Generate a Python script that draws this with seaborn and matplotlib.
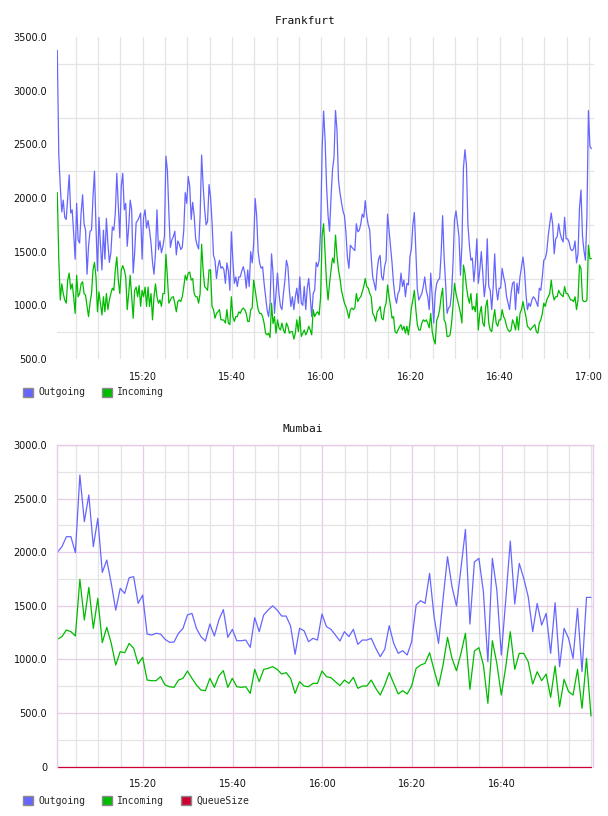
import numpy as np
import pandas as pd
import matplotlib
matplotlib.use("Agg")
import matplotlib.pyplot as plt
import matplotlib.dates as mdates
from matplotlib.patches import Patch
from matplotlib.ticker import FixedLocator, FuncFormatter
import seaborn as sns

# ---------------- data ----------------
series_names = ["Outgoing", "Incoming", "QueueSize"]
series_colors = ["#6666FF", "#00BB00", "#CC0033"]

day = "2024-01-01 "
fra_start = day + "15:00:52"
fra_step = "20s"
fra_out = [
    3375, 2400, 2110, 1870, 1980, 1820, 1800, 2010, 2215, 1860,
    1890, 1670, 1430, 1950, 1610, 1580, 1860, 2030, 1760, 1700,
    1290, 1550, 1690, 1700, 2010, 2250, 1730, 1320, 1820, 1580,
    1330, 1700, 1430, 1810, 1580, 1400, 1490, 1730, 1700, 1860,
    2230, 1920, 1630, 2110, 2230, 1890, 1950, 1550, 1730, 1980,
    1890, 1300, 1490, 1770, 1790, 1820, 1860, 1430, 1820, 1890,
    1720, 1790, 1700, 1580, 1400, 1290, 1490, 1890, 1520, 1600,
    1490, 1550, 1640, 2390, 2260, 1860, 1540, 1610, 1640, 1690,
    1470, 1600, 1570, 1520, 1540, 1700, 2050, 1950, 2200, 2110,
    1800, 1960, 1835, 1620, 1560, 1525, 1835, 2400, 2125, 1900,
    1750, 1780, 2125, 2010, 1780, 1465, 1420, 1250, 1360, 1420,
    1345, 1360, 1330, 1205, 1395, 1320, 1140, 1685, 1420, 1205,
    1265, 1175, 1265, 1265, 1320, 1360, 1300, 1160, 1330, 1175,
    1500, 1395, 1575, 1995, 1835, 1500, 1395, 1345, 1360, 1205,
    1080, 960, 895, 1020, 1480, 1300, 925, 1110, 1300, 1110,
    990, 960, 1110, 1235, 1420, 1360, 1140, 990, 1080, 960,
    1080, 1160, 1020, 1265, 1020, 1000, 1175, 960, 1160, 1250,
    1080, 895, 1110, 1140, 1400, 1360, 1420, 1700,
    2450, 2810, 2540, 2110, 1835, 1690, 2010, 2265, 2380, 2815,
    2630, 2170, 2050, 1960, 1880, 1835, 1680, 1450, 1345, 1560,
    1540, 1525, 1510, 1760, 1685, 1700, 1760, 1850, 1820, 1975,
    1835, 1750, 1700, 1450, 1265, 1205, 1140, 1330, 1435, 1465,
    1265, 1235, 1360, 1420, 1850, 1700, 1560, 1395, 1205, 1080,
    1020, 1110, 1140, 1300, 1175, 1235, 1080, 1205, 1190, 1450,
    1525, 1750, 1865, 1500, 1150, 1050, 1080, 1110, 1175, 1265,
    1140, 1080, 960, 1300, 1080, 835, 1110, 1205, 1235, 1250,
    1480, 1835, 1450, 1205, 925, 975, 990, 1110, 1395, 1800,
    1880, 1760, 1640, 1280, 1575, 2280, 2450, 2310, 1750, 1560,
    1420, 1440, 1220, 1380, 1620, 1205, 1330, 1500, 1300, 1080,
    1205, 1620, 1175, 1140, 960, 1175, 1480, 1160, 1050, 1160,
    1160, 1345, 1265, 1205, 1080, 1020, 960, 1110, 1205, 1220,
    960, 1205, 1110, 1265, 1360, 1450, 1330, 1110, 960, 1020,
    990, 1050, 1080, 1065, 1030, 990, 1160, 1140, 1265, 1420,
    1435, 1500, 1650, 1760, 1860, 1750, 1480, 1620, 1640, 1760,
    1670, 1620, 1590, 1820, 1620, 1620, 1590, 1525, 1510, 1525,
    1600, 1395, 1480, 1910, 2075, 1650, 1510, 1420, 1835, 2815,
    2480, 2460,
]
fra_in = [
    2050, 1430, 1050, 1200, 1110, 1050, 1020, 1235, 1300, 1150,
    1200, 1080, 925, 1280, 1080, 1110, 1200, 1220, 1110, 1095,
    990, 895, 1020, 1110, 1330, 1400, 1265, 940, 1125, 1020,
    910, 1080, 940, 1110, 960, 1050, 1110, 1160, 1140, 1330,
    1450, 1235, 1110, 1330, 1370, 1330, 1265, 960, 1110, 1280,
    1080, 880, 1140, 1170, 1080, 1185, 990, 1140, 1080, 1170,
    990, 1170, 990, 1110, 865, 1080, 1200, 1080, 1020, 1050,
    990, 1110, 1110, 1475, 1265, 1020, 1050, 1075, 1080, 1020,
    940, 1035, 1050, 1035, 1080, 1170, 1280, 1235, 1300, 1310,
    1235, 1250, 1110, 1080, 1080, 1020, 1110, 1570, 1330, 1175,
    1160, 1140, 1330, 1330, 990, 960, 880, 925, 940, 960,
    865, 865, 860, 835, 960, 835, 820, 1080, 895, 850,
    895, 895, 940, 925, 960, 975, 960, 925, 850, 850,
    960, 975, 1235, 1140, 1050, 960, 925, 925, 895, 835,
    740, 725, 740, 700, 1020, 830, 895, 740, 865, 790,
    770, 835, 770, 740, 835, 805, 740, 755, 755, 685,
    740, 865, 755, 895, 710, 740, 770, 725, 755, 805,
    770, 725, 960, 895, 925, 940, 910, 1080,
    1650, 1760, 1480, 1205, 1050, 1205, 1330, 1440, 1395, 1655,
    1465, 1330, 1250, 1140, 1080, 1020, 990, 940, 880, 960,
    975, 960, 975, 1110, 1035, 1065, 1080, 1125, 1175, 1250,
    1175, 1160, 1110, 1080, 925, 900, 850, 940, 960, 990,
    880, 865, 975, 1020, 1190, 1080, 990, 880, 895, 755,
    740, 770, 800, 820, 770, 805, 740, 805, 725, 835,
    975, 1050, 1140, 960, 820, 770, 770, 835, 865, 850,
    865, 835, 790, 925, 755, 685, 640, 860, 895, 960,
    1080, 1160, 865, 835, 710, 710, 725, 830, 1000, 1205,
    1110, 1050, 990, 925, 835, 1375, 1300, 1175, 1080, 1020,
    1110, 960, 990, 940, 1110, 770, 925, 990, 835, 805,
    990, 1050, 835, 770, 755, 865, 960, 835, 805, 865,
    865, 960, 895, 865, 805, 770, 755, 770, 865, 830,
    770, 895, 770, 925, 960, 1035, 960, 895, 805, 790,
    770, 790, 805, 820, 755, 740, 835, 865, 920, 1020,
    990, 1050, 1080, 1110, 1235, 1110, 1050, 1080, 1080, 1140,
    1110, 1095, 1080, 1175, 1110, 1110, 1080, 1050, 1050, 1035,
    1080, 960, 1050, 1375, 1345, 1050, 1035, 1035, 1050, 1560,
    1435, 1435,
]

mum_start = day + "15:00:55"
mum_step = "60s"
mum_out = [
    2000, 2052, 2145, 2145, 1996, 2720, 2285, 2534, 2052, 2316,
    1812, 1927, 1710, 1460, 1663, 1616, 1763, 1772, 1523, 1600,
    1237, 1228, 1244, 1237, 1188, 1160, 1163, 1244, 1290, 1415,
    1430, 1290, 1213, 1172, 1331, 1219, 1368, 1465, 1206, 1281,
    1175, 1175, 1181, 1113, 1390, 1259, 1415, 1461, 1500, 1461,
    1405, 1405, 1312, 1048, 1290, 1268, 1166, 1197, 1181, 1424,
    1306, 1281, 1228, 1172, 1259, 1213, 1281, 1141, 1181, 1181,
    1197, 1104, 1026, 1095, 1315, 1150, 1057, 1082, 1042, 1166,
    1508, 1548, 1523, 1803, 1400, 1150, 1560, 1958, 1679, 1498,
    1850, 2213, 1330, 1909, 1943, 1632, 979, 1943, 1648, 1042,
    1560, 2104, 1517, 1896, 1756, 1585, 1259, 1523, 1321, 1430,
    1057, 1529, 933, 1290, 1197, 1010, 1477, 886, 1579, 1579,
]
mum_in = [
    1188, 1213, 1275, 1259, 1219, 1747, 1368, 1672, 1290, 1570,
    1157, 1300, 1150, 948, 1073, 1063, 1150, 1104, 958, 1020,
    808, 802, 802, 840, 762, 746, 740, 808, 824, 892,
    824, 762, 715, 709, 824, 740, 846, 896, 740, 824,
    746, 740, 746, 684, 908, 793, 908, 917, 933, 908,
    864, 877, 824, 684, 793, 752, 746, 777, 777, 892,
    840, 830, 793, 756, 808, 777, 833, 731, 752, 752,
    808, 731, 668, 762, 877, 777, 678, 709, 678, 752,
    917, 948, 964, 1063, 902, 752, 948, 1206, 1010, 895,
    1057, 1244, 721, 1079, 1110, 948, 591, 1175, 964, 668,
    933, 1259, 908, 1057, 1057, 979, 771, 886, 802, 864,
    647, 939, 560, 815, 700, 668, 908, 544, 1010, 473,
]
mum_queue = [
    0, 0, 0, 0, 0, 0, 0, 0, 0, 0, 0, 0, 0, 0, 0, 0, 0, 0, 0, 0,
    0, 0, 0, 0, 0, 0, 0, 0, 0, 0, 0, 0, 0, 0, 0, 0, 0, 0, 0, 0,
    0, 0, 0, 0, 0, 0, 0, 0, 0, 0, 0, 0, 0, 0, 0, 0, 0, 0, 0, 0,
    0, 0, 0, 0, 0, 0, 0, 0, 0, 0, 0, 0, 0, 0, 0, 0, 0, 0, 0, 0,
    0, 0, 0, 0, 0, 0, 0, 0, 0, 0, 0, 0, 0, 0, 0, 0, 0, 0, 0, 0,
    0, 0, 0, 0, 0, 0, 0, 0, 0, 0, 0, 0, 0, 0, 0, 0, 0, 0, 0, 0,
]

fra_title = "Frankfurt"
mum_title = "Mumbai"
fra_yticks = [500, 1000, 1500, 2000, 2500, 3000, 3500]
mum_yticks = [0, 500, 1000, 1500, 2000, 2500, 3000]
fra_xlabels = ["15:20", "15:40", "16:00", "16:20", "16:40", "17:00"]
mum_xlabels = ["15:20", "15:40", "16:00", "16:20", "16:40"]
fra_xlim = ["15:00:48", "17:01:07"]
mum_xlim = ["15:00:49", "17:00:22"]

# ---------------- build frames ----------------
fra_t = pd.date_range(fra_start, periods=len(fra_out), freq=fra_step)
df_fra = pd.DataFrame({
    "time": list(fra_t) + list(fra_t),
    "value": fra_out + fra_in,
    "series": [series_names[0]] * len(fra_out) + [series_names[1]] * len(fra_in),
})
mum_t = pd.date_range(mum_start, periods=len(mum_out), freq=mum_step)
df_mum = pd.DataFrame({
    "time": list(mum_t) * 3,
    "value": mum_out + mum_in + mum_queue,
    "series": ([series_names[0]] * len(mum_out) + [series_names[1]] * len(mum_in)
               + [series_names[2]] * len(mum_queue)),
})

sns.set_theme(style="white")
plt.rcParams["font.family"] = ["DejaVu Sans"]

W, H = 608, 816
fig = plt.figure(figsize=(W / 100, H / 100), dpi=100)
ax1 = fig.add_axes([57 / W, 1 - 359 / H, 537 / W, 322 / H])
ax2 = fig.add_axes([57 / W, 1 - 766.7 / H, 536 / W, 321.7 / H])

pal = dict(zip(series_names, series_colors))
sns.lineplot(data=df_fra, x="time", y="value", hue="series", palette=pal,
             estimator=None, sort=False, legend=False, linewidth=0.9, ax=ax1)
sns.lineplot(data=df_mum, x="time", y="value", hue="series", palette=pal,
             estimator=None, sort=False, legend=False, linewidth=0.9, ax=ax2)
for ln in ax2.lines:
    ln.set_clip_on(False)

grey = "#E4E4E4"
pink = "#E6CCE6"
tick_font = dict(fontsize=7, color="#111111")

def ts(s):
    return pd.Timestamp(day + s)

# Frankfurt axes
ax1.set_xlim(ts(fra_xlim[0]), ts(fra_xlim[1]))
ax1.set_ylim(fra_yticks[0], fra_yticks[-1])
ax1.set_xticks([ts(l) for l in fra_xlabels])
ax1.set_xticklabels(fra_xlabels, **tick_font)
ax1.xaxis.set_minor_locator(mdates.MinuteLocator(byminute=range(0, 60, 5)))
ax1.set_yticks(fra_yticks)
ax1.yaxis.set_major_formatter(FuncFormatter(lambda v, p: f"{v:.1f}"))
ax1.yaxis.set_minor_locator(FixedLocator([t + 250 for t in fra_yticks[:-1]]))
ax1.grid(False)
ax1.xaxis.grid(True, which="both", color=grey, linewidth=0.9)
ax1.yaxis.grid(True, which="minor", color=grey, linewidth=0.9)
for sp in ax1.spines.values():
    sp.set_visible(False)

# Mumbai axes
ax2.set_xlim(ts(mum_xlim[0]), ts(mum_xlim[1]))
ax2.set_ylim(mum_yticks[0], mum_yticks[-1])
ax2.set_xticks([ts(l) for l in mum_xlabels])
ax2.set_xticklabels(mum_xlabels, **tick_font)
ax2.xaxis.set_minor_locator(mdates.MinuteLocator(byminute=range(0, 60, 5)))
ax2.set_yticks(mum_yticks)
ax2.yaxis.set_major_formatter(FuncFormatter(lambda v, p: "0" if v == 0 else f"{v:.1f}"))
ax2.yaxis.set_minor_locator(FixedLocator([t + 250 for t in mum_yticks[:-1]]))
ax2.grid(False)
ax2.xaxis.grid(True, which="major", color=pink, linewidth=0.9)
ax2.xaxis.grid(True, which="minor", color=grey, linewidth=0.9)
ax2.yaxis.grid(True, which="major", color=pink, linewidth=0.9)
ax2.yaxis.grid(True, which="minor", color=grey, linewidth=0.9)
for name, sp in ax2.spines.items():
    sp.set_visible(name != "bottom")
    sp.set_color(pink)
    sp.set_linewidth(1.0)

for ax in (ax1, ax2):
    ax.set_axisbelow(True)
    ax.set_xlabel("")
    ax.set_ylabel("")
    ax.tick_params(axis="both", which="both", length=0)
    ax.tick_params(axis="x", pad=9)
    ax.tick_params(axis="y", pad=7)
    for lab in ax.get_yticklabels():
        lab.set_fontsize(7)
        lab.set_color("#111111")

mono = ["DejaVu Sans Mono"]
fig.text(305 / W, 1 - 21 / H, fra_title, ha="center", va="center",
         fontsize=8, family=mono, color="#111111")
fig.text(303 / W, 1 - 429 / H, mum_title, ha="center", va="center",
         fontsize=8, family=mono, color="#111111")

def add_legend(names, ycenter):
    handles = [Patch(facecolor=pal[n], edgecolor="#8a8a8a", linewidth=1.0, label=n)
               for n in names]
    fig.legend(handles=handles, loc="center left", ncol=len(names),
               bbox_to_anchor=(23 / W, 1 - ycenter / H), frameon=False,
               prop={"family": mono, "size": 7}, handlelength=1.05,
               handleheight=1.05, handletextpad=0.5, columnspacing=1.75,
               borderpad=0, borderaxespad=0)

add_legend(series_names[:2], 392.5)
add_legend(series_names, 800.5)

fig.savefig("out.png", dpi=100, facecolor="white")
